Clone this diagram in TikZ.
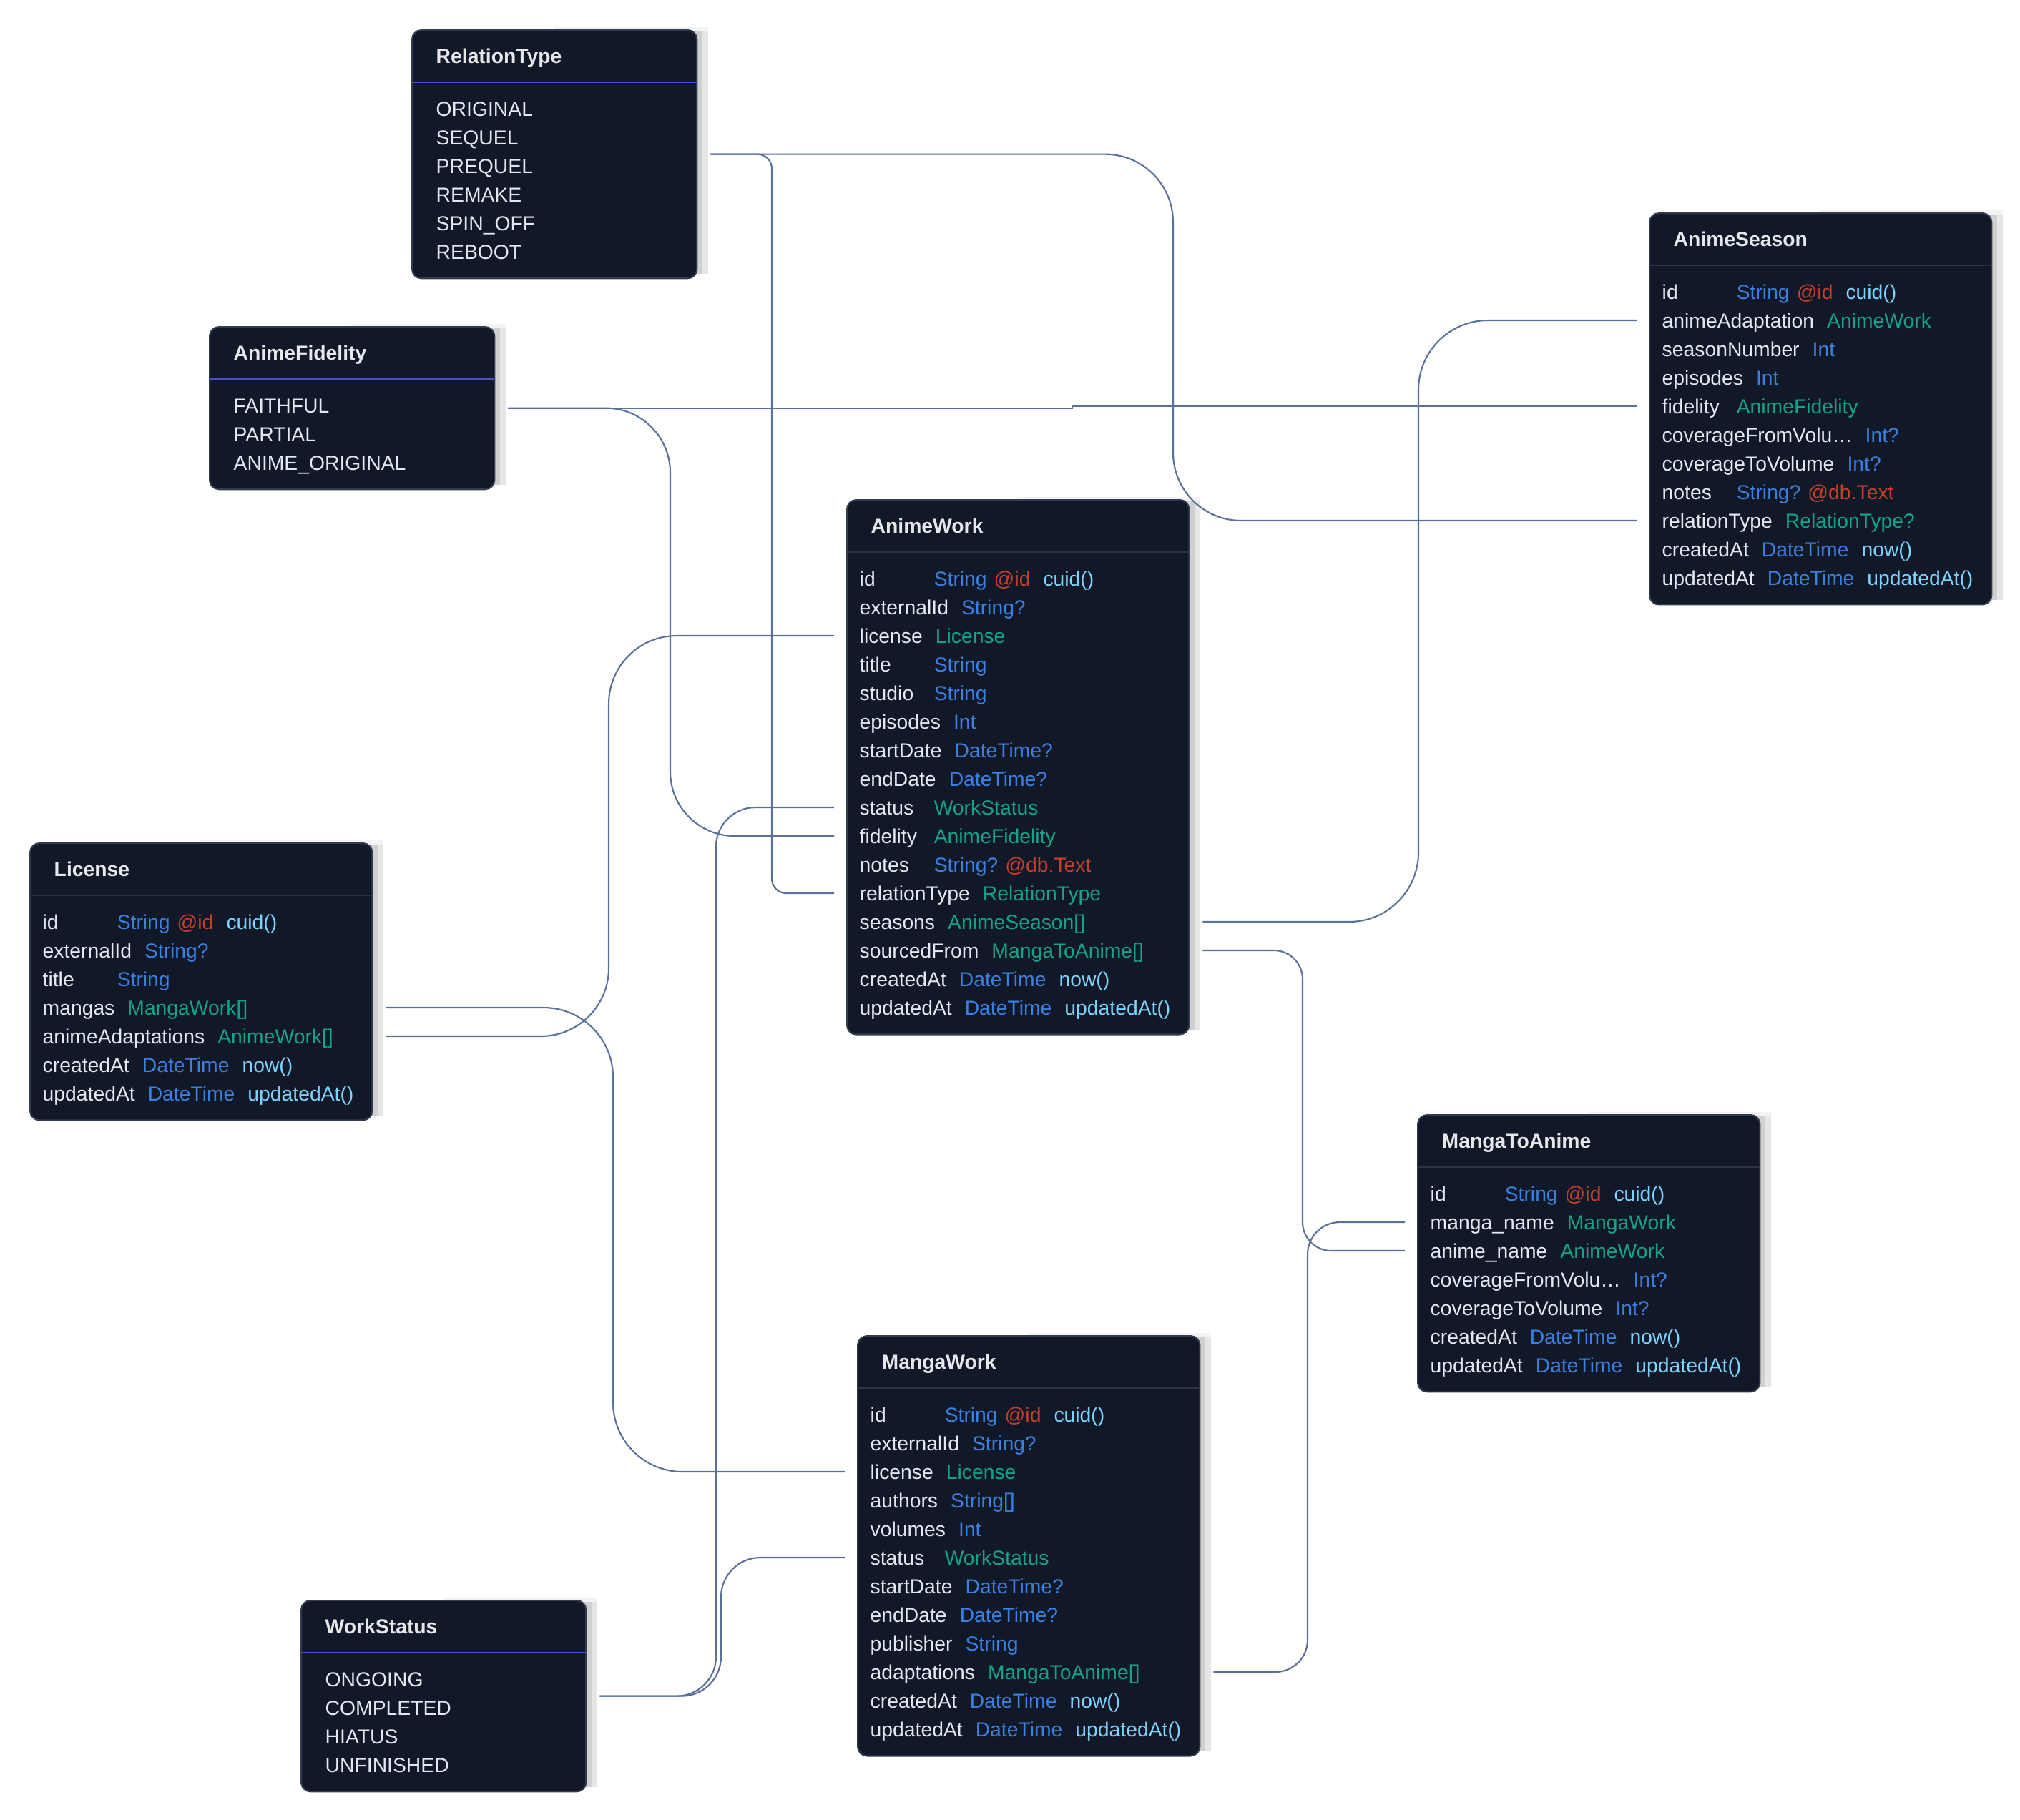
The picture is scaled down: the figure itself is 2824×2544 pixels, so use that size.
\documentclass[tikz,border=0pt]{standalone}
\usepackage{fontspec}
\setmainfont{Liberation Sans}
\usetikzlibrary{calc}

% palette
\definecolor{boxfill}{HTML}{111827}
\definecolor{boxline}{HTML}{303B4E}
\definecolor{sepmodel}{HTML}{2B3546}
\definecolor{sepenum}{HTML}{4B4FC9}
\definecolor{titlecol}{HTML}{E5E7EB}
\definecolor{namecol}{HTML}{E2E8F0}
\definecolor{tyblue}{HTML}{3B80DF}
\definecolor{relteal}{HTML}{14A38A}
\definecolor{atred}{HTML}{C4402B}
\definecolor{dfsky}{HTML}{7DD3FC}
\definecolor{connline}{HTML}{5B7199}
\definecolor{shadowdark}{HTML}{D0D0D0}
\definecolor{shadowlight}{HTML}{E6E6E6}
\definecolor{shadowfaint}{HTML}{F3F3F3}

% field row: name column (min width) + type + attribute + default
\newlength\namew
\newcommand\fld[2]{\settowidth\namew{#1}\ifdim\namew<0.86cm\namew=0.86cm\fi\makebox[\namew][l]{#1}\hspace{0.18cm}#2}
\newcommand\ty[1]{\textcolor{tyblue}{#1}}
\newcommand\rl[1]{\textcolor{relteal}{#1}}
\newcommand\attr[1]{\hspace{0.1cm}\textcolor{atred}{#1}}
\newcommand\dflt[1]{\hspace{0.18cm}\textcolor{dfsky}{#1}}

% table box: name, left, top, width, rows, separator colour
\newcommand\erbox[6]{%
  \pgfmathsetmacro\boxh{107+40*#5}%
  \fill[shadowfaint] ({#2+0.5*#4},{#3-3}) rectangle ({#2+#4+17},{#3+6});
  \fill[shadowlight] ({#2+#4-20},{#3+3}) rectangle ({#2+#4+17},{#3+\boxh-5});
  \fill[shadowdark] ({#2+#4-20},{#3+3}) rectangle ({#2+#4+9},{#3+\boxh-5});
  \node[boxshape, minimum width=#4*0.1mm, minimum height=\boxh*0.1mm] (#1) at (#2,#3) {};
  \draw[#6, line width=0.7pt] ($(#1.north west)+(1,74)$) -- ($(#1.north east)+(-1,74)$);
}
\newcommand\boxtitle[2]{\node[titletext] at ($(#1.north west)+(34,47)$) {#2};}
\newcommand\mrow[3]{\node[rowtext] at ($(#1.north west)+(18,121+40*#2)$) {#3};}
\newcommand\erow[3]{\node[rowtext] at ($(#1.north west)+(34,121+40*#2)$) {#3};}
% connector ports on the left / right side of a table row
\newcommand\portE[3]{\coordinate (#1) at ($(#2.north east)+(18,111+40*#3)$);}
\newcommand\portW[3]{\coordinate (#1) at ($(#2.north west)+(-17,111+40*#3)$);}

\begin{document}
\begin{tikzpicture}[x=0.01cm, y=-0.01cm,
  boxshape/.style={rectangle, rounded corners=1.3mm, draw=boxline, fill=boxfill,
    line width=0.6pt, inner sep=0pt, anchor=north west},
  titletext/.style={anchor=base west, inner sep=0pt, text=titlecol,
    font=\fontsize{8.05pt}{9pt}\selectfont\bfseries},
  rowtext/.style={anchor=base west, inner sep=0pt, text=namecol,
    font=\fontsize{8.05pt}{9pt}\selectfont},
  conn/.style={draw=connline, line width=0.6pt}]

\fill[white] (0,0) rectangle (2824,2544);
\useasboundingbox (0,0) rectangle (2824,2544);

% ---------- enums ----------
\erbox{rt}{575}{41}{398}{6}{sepenum}
\boxtitle{rt}{RelationType}
\erow{rt}{0}{ORIGINAL}
\erow{rt}{1}{SEQUEL}
\erow{rt}{2}{PREQUEL}
\erow{rt}{3}{REMAKE}
\erow{rt}{4}{SPIN\_OFF}
\erow{rt}{5}{REBOOT}

\erbox{af}{292}{456}{398}{3}{sepenum}
\boxtitle{af}{AnimeFidelity}
\erow{af}{0}{FAITHFUL}
\erow{af}{1}{PARTIAL}
\erow{af}{2}{ANIME\_ORIGINAL}

\erbox{ws}{420}{2237}{398}{4}{sepenum}
\boxtitle{ws}{WorkStatus}
\erow{ws}{0}{ONGOING}
\erow{ws}{1}{COMPLETED}
\erow{ws}{2}{HIATUS}
\erow{ws}{3}{UNFINISHED}

% ---------- models ----------
\erbox{as}{2305}{297}{478}{11}{sepmodel}
\boxtitle{as}{AnimeSeason}
\mrow{as}{0}{\fld{id}{\ty{String}\attr{@id}\dflt{cuid()}}}
\mrow{as}{1}{\fld{animeAdaptation}{\rl{AnimeWork}}}
\mrow{as}{2}{\fld{seasonNumber}{\ty{Int}}}
\mrow{as}{3}{\fld{episodes}{\ty{Int}}}
\mrow{as}{4}{\fld{fidelity}{\rl{AnimeFidelity}}}
\mrow{as}{5}{\fld{coverageFromVolu…}{\ty{Int?}}}
\mrow{as}{6}{\fld{coverageToVolume}{\ty{Int?}}}
\mrow{as}{7}{\fld{notes}{\ty{String?}\attr{@db.Text}}}
\mrow{as}{8}{\fld{relationType}{\rl{RelationType?}}}
\mrow{as}{9}{\fld{createdAt}{\ty{DateTime}\dflt{now()}}}
\mrow{as}{10}{\fld{updatedAt}{\ty{DateTime}\dflt{updatedAt()}}}

\erbox{aw}{1183}{698}{478}{16}{sepmodel}
\boxtitle{aw}{AnimeWork}
\mrow{aw}{0}{\fld{id}{\ty{String}\attr{@id}\dflt{cuid()}}}
\mrow{aw}{1}{\fld{externalId}{\ty{String?}}}
\mrow{aw}{2}{\fld{license}{\rl{License}}}
\mrow{aw}{3}{\fld{title}{\ty{String}}}
\mrow{aw}{4}{\fld{studio}{\ty{String}}}
\mrow{aw}{5}{\fld{episodes}{\ty{Int}}}
\mrow{aw}{6}{\fld{startDate}{\ty{DateTime?}}}
\mrow{aw}{7}{\fld{endDate}{\ty{DateTime?}}}
\mrow{aw}{8}{\fld{status}{\rl{WorkStatus}}}
\mrow{aw}{9}{\fld{fidelity}{\rl{AnimeFidelity}}}
\mrow{aw}{10}{\fld{notes}{\ty{String?}\attr{@db.Text}}}
\mrow{aw}{11}{\fld{relationType}{\rl{RelationType}}}
\mrow{aw}{12}{\fld{seasons}{\rl{AnimeSeason[]}}}
\mrow{aw}{13}{\fld{sourcedFrom}{\rl{MangaToAnime[]}}}
\mrow{aw}{14}{\fld{createdAt}{\ty{DateTime}\dflt{now()}}}
\mrow{aw}{15}{\fld{updatedAt}{\ty{DateTime}\dflt{updatedAt()}}}

\erbox{li}{41}{1178}{478}{7}{sepmodel}
\boxtitle{li}{License}
\mrow{li}{0}{\fld{id}{\ty{String}\attr{@id}\dflt{cuid()}}}
\mrow{li}{1}{\fld{externalId}{\ty{String?}}}
\mrow{li}{2}{\fld{title}{\ty{String}}}
\mrow{li}{3}{\fld{mangas}{\rl{MangaWork[]}}}
\mrow{li}{4}{\fld{animeAdaptations}{\rl{AnimeWork[]}}}
\mrow{li}{5}{\fld{createdAt}{\ty{DateTime}\dflt{now()}}}
\mrow{li}{6}{\fld{updatedAt}{\ty{DateTime}\dflt{updatedAt()}}}

\erbox{mta}{1981}{1558}{478}{7}{sepmodel}
\boxtitle{mta}{MangaToAnime}
\mrow{mta}{0}{\fld{id}{\ty{String}\attr{@id}\dflt{cuid()}}}
\mrow{mta}{1}{\fld{manga\_name}{\rl{MangaWork}}}
\mrow{mta}{2}{\fld{anime\_name}{\rl{AnimeWork}}}
\mrow{mta}{3}{\fld{coverageFromVolu…}{\ty{Int?}}}
\mrow{mta}{4}{\fld{coverageToVolume}{\ty{Int?}}}
\mrow{mta}{5}{\fld{createdAt}{\ty{DateTime}\dflt{now()}}}
\mrow{mta}{6}{\fld{updatedAt}{\ty{DateTime}\dflt{updatedAt()}}}

\erbox{mw}{1198}{1867}{478}{12}{sepmodel}
\boxtitle{mw}{MangaWork}
\mrow{mw}{0}{\fld{id}{\ty{String}\attr{@id}\dflt{cuid()}}}
\mrow{mw}{1}{\fld{externalId}{\ty{String?}}}
\mrow{mw}{2}{\fld{license}{\rl{License}}}
\mrow{mw}{3}{\fld{authors}{\ty{String[]}}}
\mrow{mw}{4}{\fld{volumes}{\ty{Int}}}
\mrow{mw}{5}{\fld{status}{\rl{WorkStatus}}}
\mrow{mw}{6}{\fld{startDate}{\ty{DateTime?}}}
\mrow{mw}{7}{\fld{endDate}{\ty{DateTime?}}}
\mrow{mw}{8}{\fld{publisher}{\ty{String}}}
\mrow{mw}{9}{\fld{adaptations}{\rl{MangaToAnime[]}}}
\mrow{mw}{10}{\fld{createdAt}{\ty{DateTime}\dflt{now()}}}
\mrow{mw}{11}{\fld{updatedAt}{\ty{DateTime}\dflt{updatedAt()}}}

% ---------- ports ----------
\coordinate (rt-e) at ($(rt.east)+(18,0)$);
\coordinate (af-e) at ($(af.east)+(18,0)$);
\coordinate (ws-e) at ($(ws.east)+(18,0)$);
\portW{as-adapt}{as}{1}
\portW{as-fid}{as}{4}
\portW{as-rel}{as}{8}
\portW{aw-lic}{aw}{2}
\portW{aw-stat}{aw}{8}
\portW{aw-fid}{aw}{9}
\portW{aw-rel}{aw}{11}
\portE{aw-seas}{aw}{12}
\portE{aw-src}{aw}{13}
\portE{li-man}{li}{3}
\portE{li-ani}{li}{4}
\portW{mta-man}{mta}{1}
\portW{mta-ani}{mta}{2}
\portW{mw-lic}{mw}{2}
\portW{mw-stat}{mw}{5}
\portE{mw-adapt}{mw}{9}

% vertical tracks of the connectors
\coordinate (k-rt-aw) at (1079,0);
\coordinate (k-rt-as) at (1640,0);
\coordinate (k-af-aw) at (937,0);
\coordinate (k-li-aw) at (851,0);
\coordinate (k-li-mw) at (857,0);
\coordinate (k-ws-aw) at (1001,0);
\coordinate (k-ws-mw) at (1008,0);
\coordinate (k-aw-as) at (1983,0);
\coordinate (k-aw-mta) at (1821,0);
\coordinate (k-mw-mta) at (1828,0);

% ---------- connectors ----------
\draw[conn, rounded corners=2mm] (rt-e) -| (k-rt-aw |- aw-rel) -- (aw-rel);
\draw[conn, rounded corners=9.5mm] (rt-e) -| (k-rt-as |- as-rel) -- (as-rel);
\draw[conn, rounded corners=9mm] (af-e) -| (k-af-aw |- aw-fid) -- (aw-fid);
\draw[conn] (af-e) -| ($(af-e)!0.5!(as-fid)$) |- (as-fid);
\draw[conn, rounded corners=9.5mm] (li-ani) -| (k-li-aw |- aw-lic) -- (aw-lic);
\draw[conn, rounded corners=9.7mm] (li-man) -| (k-li-mw |- mw-lic) -- (mw-lic);
\draw[conn, rounded corners=5.5mm] (ws-e) -| (k-ws-aw |- aw-stat) -- (aw-stat);
\draw[conn, rounded corners=5.5mm] (ws-e) -| (k-ws-mw |- mw-stat) -- (mw-stat);
\draw[conn, rounded corners=9.7mm] (aw-seas) -| (k-aw-as |- as-adapt) -- (as-adapt);
\draw[conn, rounded corners=4mm] (aw-src) -| (k-aw-mta |- mta-ani) -- (mta-ani);
\draw[conn, rounded corners=4.5mm] (mw-adapt) -| (k-mw-mta |- mta-man) -- (mta-man);

\end{tikzpicture}
\end{document}
